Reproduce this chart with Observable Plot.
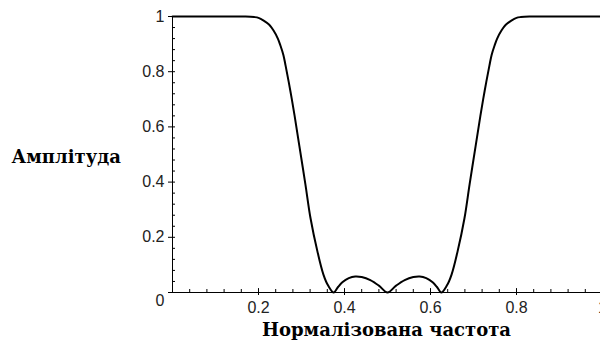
<!DOCTYPE html>
<html>
<head>
<meta charset="utf-8">
<script src="https://cdn.jsdelivr.net/npm/d3@7"></script>
<script src="https://cdn.jsdelivr.net/npm/@observablehq/plot@0.6"></script>
<style>
  html, body { margin: 0; padding: 0; background: #fff; overflow: hidden; }
  #chart svg { display: block; }
</style>
</head>
<body>
<div id="chart"></div>
<script>
// Normalized frequency (x) and amplitude (y)
const freq = [0, 0.1, 0.17, 0.19, 0.2, 0.212, 0.225, 0.235, 0.245, 0.251, 0.258, 0.263, 0.274, 0.284, 0.295, 0.309, 0.321, 0.337, 0.351, 0.362, 0.375,
  0.385, 0.395, 0.41, 0.425, 0.44, 0.46, 0.48, 0.5,
  0.52, 0.54, 0.56, 0.575, 0.59, 0.605, 0.615, 0.625,
  0.638, 0.649, 0.663, 0.679, 0.691, 0.705, 0.716, 0.726, 0.737, 0.742, 0.749, 0.755, 0.765, 0.775, 0.788, 0.8, 0.81, 0.83, 0.9, 1];
const amp = [1, 1, 1, 0.998, 0.995, 0.985, 0.97, 0.949, 0.92, 0.895, 0.86, 0.822, 0.731, 0.64, 0.531, 0.393, 0.269, 0.149, 0.065, 0.025, 0,
  0.02, 0.037, 0.052, 0.058, 0.056, 0.045, 0.025, 0,
  0.025, 0.045, 0.056, 0.058, 0.052, 0.037, 0.02, 0,
  0.025, 0.065, 0.149, 0.269, 0.393, 0.531, 0.64, 0.731, 0.822, 0.86, 0.895, 0.92, 0.949, 0.97, 0.985, 0.995, 0.998, 1, 1, 1];

const xMajor = [0.2, 0.4, 0.6, 0.8, 1];
const xMajorLabels = ["0.2", "0.4", "0.6", "0.8", "1"];
const yMajor = [0, 0.2, 0.4, 0.6, 0.8, 1];
const yMajorLabels = ["0", "0.2", "0.4", "0.6", "0.8", "1"];
const xMinor = [0.04, 0.08, 0.12, 0.16, 0.24, 0.28, 0.32, 0.36, 0.44, 0.48, 0.52, 0.56, 0.64, 0.68, 0.72, 0.76, 0.84, 0.88, 0.92, 0.96];
const yMinor = [0.04, 0.08, 0.12, 0.16, 0.24, 0.28, 0.32, 0.36, 0.44, 0.48, 0.52, 0.56, 0.64, 0.68, 0.72, 0.76, 0.84, 0.88, 0.92, 0.96];

const xTitle = "Нормалізована частота";
const yTitle = "Амплітуда";

const data = freq.map((f, i) => ({f, a: amp[i]}));

// pixel-based tick lengths converted to data units
const X0 = 172, X1 = 602, Y0 = 292, Y1 = 16;
const px = (X1 - X0), py = (Y0 - Y1);
const up = 3 / py, down = 3 / py, right = 3 / px, left = 4 / px;

const tickFont = "Liberation Sans";
const titleFont = "DejaVu Serif";

const chart = Plot.plot({
  width: 600,
  height: 349,
  marginLeft: 0, marginRight: 0, marginTop: 0, marginBottom: 0,
  x: {domain: [0, 1], range: [X0, X1]},
  y: {domain: [0, 1], range: [Y0, Y1]},
  axis: null,
  style: {background: "#fff", overflow: "hidden"},
  marks: [
    // axis lines
    Plot.ruleY([0], {x1: 0, x2: 1.01, stroke: "#000", strokeWidth: 1}),
    Plot.ruleX([0], {y1: 0, y2: 1, stroke: "#000", strokeWidth: 1}),
    // x ticks
    Plot.ruleX(xMinor, {x: d => d, y1: 0, y2: up, stroke: "#000"}),
    Plot.ruleX(xMajor, {x: d => d, y1: -down, y2: up * 1.3, stroke: "#000"}),
    // y ticks
    Plot.ruleY(yMinor, {y: d => d, x1: 0, x2: right, stroke: "#000"}),
    Plot.ruleY(yMajor, {y: d => d, x1: -left, x2: right, stroke: "#000"}),
    // x tick labels
    Plot.text(xMajor, {x: d => d, y: 0, text: (d, i) => xMajorLabels[i], dy: 15, fontSize: 16, fontFamily: tickFont, fill: "#222"}),
    // y tick labels
    Plot.text(yMajor.filter(d => d > 0), {x: 0, y: d => d, text: d => yMajorLabels[yMajor.indexOf(d)], dx: -8, textAnchor: "end", fontSize: 16, fontFamily: tickFont, fill: "#222"}),
    Plot.text(yMajor.filter(d => d === 0), {x: 0, y: d => d, text: d => yMajorLabels[yMajor.indexOf(d)], dx: -8, dy: 8, textAnchor: "end", fontSize: 16, fontFamily: tickFont, fill: "#222"}),
    // curve
    Plot.line(data, {x: "f", y: "a", stroke: "#000", strokeWidth: 2, curve: "catmull-rom"}),
    // titles
    Plot.text([yTitle], {frameAnchor: "left", text: d => d, dx: 11, dy: -18, textAnchor: "start", fontSize: 18, fontWeight: "bold", fontFamily: titleFont, fill: "#000"}),
    Plot.text([xTitle], {frameAnchor: "bottom", text: d => d, dx: 86, dy: -14, fontSize: 18, fontWeight: "bold", fontFamily: titleFont, fill: "#000"})
  ]
});
document.getElementById("chart").appendChild(chart);
</script>
</body>
</html>
